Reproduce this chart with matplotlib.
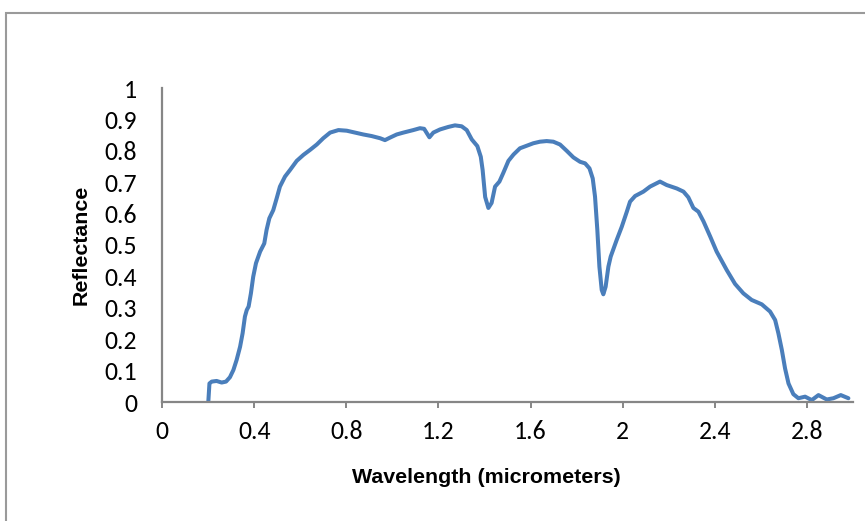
import matplotlib
matplotlib.use("Agg")
import matplotlib.pyplot as plt
from matplotlib.patches import Rectangle

wavelength = [0.201, 0.206, 0.216, 0.237, 0.259, 0.278, 0.295, 0.310, 0.324, 0.339, 0.350,
              0.360, 0.368, 0.376, 0.386, 0.396, 0.408, 0.426, 0.444, 0.454, 0.466,
              0.483, 0.498, 0.512, 0.534, 0.556, 0.585, 0.614, 0.643, 0.672, 0.700,
              0.730, 0.766, 0.802, 0.838, 0.874, 0.910, 0.947, 0.968, 0.990, 1.019,
              1.048, 1.091, 1.120, 1.138, 1.161, 1.178, 1.207, 1.243, 1.272, 1.301,
              1.323, 1.345, 1.369, 1.384, 1.392, 1.403, 1.417, 1.431, 1.446, 1.465,
              1.482, 1.504, 1.526, 1.554, 1.583, 1.612, 1.641, 1.670, 1.699, 1.728,
              1.757, 1.786, 1.815, 1.837, 1.856, 1.870, 1.880, 1.890, 1.899, 1.909,
              1.916, 1.926, 1.938, 1.948, 1.974, 1.996, 2.018, 2.032, 2.054, 2.090,
              2.119, 2.162, 2.191, 2.235, 2.264, 2.285, 2.307, 2.329, 2.351, 2.380,
              2.408, 2.452, 2.488, 2.524, 2.560, 2.604, 2.640, 2.662, 2.676, 2.691,
              2.705, 2.720, 2.741, 2.763, 2.792, 2.821, 2.850, 2.886, 2.915, 2.947,
              2.980]
reflectance = [0.000, 0.059, 0.065, 0.067, 0.062, 0.065, 0.079, 0.102, 0.134, 0.176, 0.219,
               0.272, 0.293, 0.304, 0.346, 0.399, 0.442, 0.479, 0.505, 0.548, 0.585,
               0.611, 0.649, 0.686, 0.718, 0.739, 0.768, 0.787, 0.803, 0.820, 0.840,
               0.858, 0.866, 0.864, 0.858, 0.852, 0.847, 0.840, 0.834, 0.842, 0.852,
               0.858, 0.866, 0.872, 0.870, 0.843, 0.858, 0.868, 0.876, 0.881, 0.878,
               0.866, 0.836, 0.815, 0.781, 0.739, 0.653, 0.618, 0.634, 0.686, 0.702,
               0.730, 0.768, 0.788, 0.808, 0.816, 0.824, 0.829, 0.831, 0.829, 0.820,
               0.800, 0.779, 0.765, 0.760, 0.744, 0.712, 0.654, 0.548, 0.431, 0.357,
               0.343, 0.367, 0.431, 0.463, 0.516, 0.558, 0.606, 0.638, 0.656, 0.670,
               0.686, 0.702, 0.691, 0.680, 0.670, 0.652, 0.618, 0.606, 0.575, 0.527,
               0.479, 0.420, 0.376, 0.346, 0.325, 0.311, 0.288, 0.261, 0.219, 0.166,
               0.107, 0.059, 0.025, 0.012, 0.017, 0.006, 0.022, 0.008, 0.012, 0.022,
               0.012]

x_ticks = [0, 0.4, 0.8, 1.2, 1.6, 2.0, 2.4, 2.8]
x_tick_labels = ["0", "0.4", "0.8", "1.2", "1.6", "2", "2.4", "2.8"]
y_ticks = [0, 0.1, 0.2, 0.3, 0.4, 0.5, 0.6, 0.7, 0.8, 0.9, 1.0]
y_tick_labels = ["0", "0.1", "0.2", "0.3", "0.4", "0.5", "0.6", "0.7", "0.8", "0.9", "1"]

fonts = ['Carlito', 'Lato', 'DejaVu Sans']
plt.rcParams['font.family'] = fonts
label_fonts = ['Liberation Sans', 'Arimo', 'DejaVu Sans']

fig = plt.figure(figsize=(8.65, 5.21), dpi=100)
fig.patches.append(Rectangle((6/865, -0.1), 1.2, 1 - 13/521 + 0.1, transform=fig.transFigure,
                             fill=False, edgecolor='#9a9a9a', linewidth=1.5))
ax = fig.add_axes([162/865, 1 - 402/521, (853-162)/865, (402-88)/521])

ax.plot(wavelength, reflectance, color='#4A7EBB', linewidth=2.9, solid_capstyle='round',
        solid_joinstyle='round')

ax.set_xlim(0, 3.0)
ax.set_ylim(0, 1.0)
ax.set_xticks(x_ticks)
ax.set_xticklabels(x_tick_labels, fontsize=18.5)
ax.set_yticks(y_ticks)
ax.set_yticklabels(y_tick_labels, fontsize=18.5)
ax.tick_params(axis='y', length=0, pad=18)
ax.tick_params(axis='x', length=4.5, width=1.4, color='#868686', direction='out', pad=8.5)

for s in ['top', 'right']:
    ax.spines[s].set_visible(False)
for s in ['left', 'bottom']:
    ax.spines[s].set_color('#868686')
    ax.spines[s].set_linewidth(1.6)

ax.set_xlabel("Wavelength (micrometers)", fontsize=15.4, fontweight='bold', family=label_fonts)
ax.set_ylabel("Reflectance", fontsize=15.4, fontweight='bold', family=label_fonts)
ax.xaxis.set_label_coords(0.47, -0.239)
ax.xaxis.label.set_va('center')
ax.yaxis.set_label_coords(-0.117, 0.5)
ax.yaxis.label.set_va('center')
ax.yaxis.label.set_ha('center')

fig.savefig("out.png", dpi=100)
